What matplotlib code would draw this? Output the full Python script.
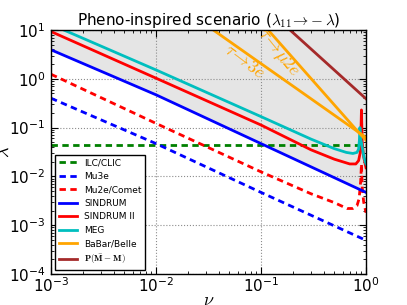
import numpy as np
import matplotlib
matplotlib.use("Agg")
import matplotlib.pyplot as plt

plt.rcParams['mathtext.fontset'] = 'cm'
plt.rcParams['font.family'] = ['DejaVu Sans']

# ---- data ----
ilc_nu = [1e-3, 1.0]
ilc_lam = [0.045, 0.045]

mu3e_nu = [1e-3, 1e-2, 1e-1, 1.0]
mu3e_lam = [0.40, 0.047, 0.0047, 4.9e-4]

mu2e_nu = [1e-3, 1e-2, 0.1, 0.3, 0.5, 0.66, 0.75, 0.82, 0.86, 0.89, 0.905, 0.92, 0.95, 1.0]
mu2e_lam = [1.24, 0.122, 0.0124, 0.0044, 0.0029, 0.0022, 0.0022, 0.0025, 0.0035, 0.008, 0.018, 0.006, 0.003, 0.0018]

sindrum_nu = [1e-3, 1e-2, 1e-1, 1.0]
sindrum_lam = [3.93, 0.47, 0.047, 0.0047]

sindrum2_nu = [1e-3, 1e-2, 0.1, 0.3, 0.5, 0.7, 0.8, 0.85, 0.88, 0.895, 0.905, 0.92, 0.95, 1.0]
sindrum2_lam = [9.3, 1.03, 0.113, 0.035, 0.0225, 0.018, 0.018, 0.021, 0.03, 0.08, 0.23, 0.05, 0.025, 0.015]

meg_nu = [1e-3, 1e-2, 0.1, 0.3, 0.5, 0.65, 0.75, 0.82, 0.85, 0.865, 0.875, 0.89, 0.93, 0.96, 1.0]
meg_lam = [13.0, 1.52, 0.168, 0.058, 0.037, 0.031, 0.0295, 0.031, 0.036, 0.055, 0.10, 0.06, 0.035, 0.024, 0.018]

tau3e_nu = [0.0351, 0.845, 1.0]
tau3e_lam = [10.0, 0.081, 0.063]

taumu2e_nu = [0.117, 0.845, 1.0]
taumu2e_lam = [10.0, 0.081, 0.055]

pmm_nu = [0.189, 1.0]
pmm_lam = [10.0, 0.39]

fig = plt.figure(figsize=(4.07, 3.05), dpi=100)
ax = fig.add_axes([51/407, 1-274/305, 315/407, 244/305])

ax.set_xscale('log')
ax.set_yscale('log')
ax.set_xlim(1e-3, 1.0)
ax.set_ylim(1e-4, 10)

ax.fill_between(sindrum_nu, sindrum_lam, [10]*len(sindrum_nu), color='#e5e5e5', lw=0, zorder=0.5)

lw = 2
dsh = (2.3, 1.6)
ax.plot(ilc_nu, ilc_lam, '--', dashes=dsh, color=(0, 0.5, 0), lw=lw, label='ILC/CLIC')
ax.plot(mu3e_nu, mu3e_lam, '--', dashes=dsh, color='b', lw=lw, label='Mu3e')
ax.plot(mu2e_nu, mu2e_lam, '--', dashes=dsh, color='r', lw=lw, label='Mu2e/Comet')
ax.plot(sindrum_nu, sindrum_lam, '-', color='b', lw=lw, label='SINDRUM')
ax.plot(sindrum2_nu, sindrum2_lam, '-', color='r', lw=lw, label='SINDRUM II')
ax.plot(meg_nu, meg_lam, '-', color=(0, 0.75, 0.75), lw=lw, label='MEG')
ax.plot(tau3e_nu, tau3e_lam, '-', color='orange', lw=lw, label='BaBar/Belle')
ax.plot(taumu2e_nu, taumu2e_lam, '-', color='orange', lw=lw)
ax.plot(pmm_nu, pmm_lam, '-', color='brown', lw=lw, label=r'$\mathbf{P(\bar{M}-M)}$')

ax.text(0.0689, 2.3, r'$\tau\!\to\!3e$', color='orange', fontsize=13,
        rotation=-37, ha='center', va='center', rotation_mode='anchor')
ax.text(0.147, 3.5, r'$\tau\!\to\!\mu 2e$', color='orange', fontsize=13,
        rotation=-51, ha='center', va='center', rotation_mode='anchor')

ax.grid(True, which='major', linestyle=':', color='0.55', lw=0.8)
ax.tick_params(which='both', direction='in', top=True, right=True, labelsize=11)
ax.tick_params(which='major', length=5)
ax.tick_params(axis='x', which='major', pad=2)
ax.tick_params(axis='y', which='major', pad=4)
ax.tick_params(which='minor', length=2.5)
for s in ax.spines.values():
    s.set_linewidth(1.0)

ax.set_xlabel(r'$\nu$', fontsize=13, labelpad=-3)
ax.set_ylabel(r'$\lambda$', fontsize=13, labelpad=-3)
ax.set_title(r'Pheno-inspired scenario ($\lambda_{11}\!\to\!-\lambda$)', fontsize=11, pad=3)

leg = ax.legend(loc='lower left', fancybox=False, framealpha=1,
                edgecolor='k', borderaxespad=0.45, handlelength=2.0,
                labelspacing=0.5, prop={'size': 6.5, 'math_fontfamily': 'cm'})
leg.get_frame().set_linewidth(1.0)

fig.savefig('out.png', dpi=100, facecolor='white')
